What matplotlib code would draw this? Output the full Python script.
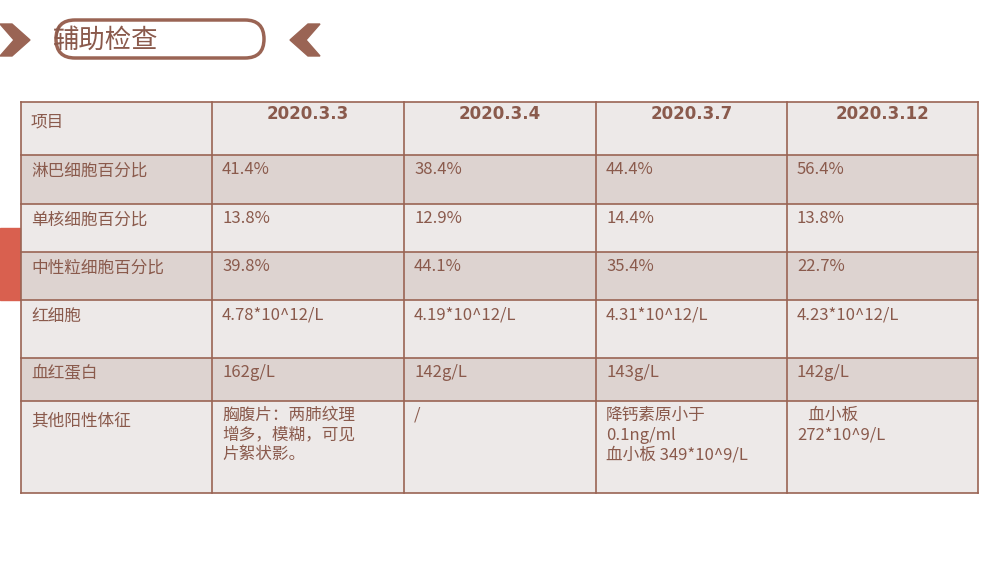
import matplotlib.pyplot as plt
from matplotlib.patches import Rectangle, FancyBboxPatch, Polygon

plt.rcParams['font.family'] = ['Noto Sans CJK SC', 'DejaVu Sans']

title = "辅助检查"
header = ["项目", "2020.3.3", "2020.3.4", "2020.3.7", "2020.3.12"]
rows = [
    ["淋巴细胞百分比", "41.4%", "38.4%", "44.4%", "56.4%"],
    ["单核细胞百分比", "13.8%", "12.9%", "14.4%", "13.8%"],
    ["中性粒细胞百分比", "39.8%", "44.1%", "35.4%", "22.7%"],
    ["红细胞", "4.78*10^12/L", "4.19*10^12/L", "4.31*10^12/L", "4.23*10^12/L"],
    ["血红蛋白", "162g/L", "142g/L", "143g/L", "142g/L"],
    ["其他阳性体征", "胸腹片：两肺纹理\n增多，模糊，可见\n片絮状影。", "/",
     "降钙素原小于\n0.1ng/ml\n血小板 349*10^9/L", "   血小板\n272*10^9/L"],
]

col_x = [21, 212, 404, 596, 787, 978]
row_y = [102, 155, 204, 252, 300, 358, 401, 493]
BROWN = "#9a6454"
TEXT = "#8a5a4c"
LIGHT = "#ede9e8"
DARK = "#ddd3d0"

fig = plt.figure(figsize=(10, 5.63), dpi=100)
ax = fig.add_axes([0, 0, 1, 1])
ax.set_xlim(0, 1000)
ax.set_ylim(563, 0)
ax.axis("off")

# title decoration
ax.add_patch(Polygon([[0, 24], [12, 24], [30, 40], [12, 56], [0, 56], [14, 40]],
                     closed=True, color=BROWN))
ax.add_patch(Polygon([[320, 24], [308, 24], [290, 40], [308, 56], [320, 56], [306, 40]],
                     closed=True, color=BROWN))
ax.add_patch(FancyBboxPatch((56, 20), 208, 38, boxstyle="round,pad=0,rounding_size=19",
                            fc="white", ec=BROWN, lw=2.5))
ax.text(52, 40, title, fontsize=19, color=TEXT, va="center", ha="left")

# red side bar
ax.add_patch(Rectangle((0, 228), 20, 72, color="#d9604f"))

# cells
all_rows = [header] + rows
for r, row in enumerate(all_rows):
    y0, y1 = row_y[r], row_y[r + 1]
    fc = DARK if r % 2 == 1 else LIGHT
    ax.add_patch(Rectangle((col_x[0], y0), col_x[-1] - col_x[0], y1 - y0, fc=fc, ec="none"))
    for c, txt in enumerate(row):
        x0, x1 = col_x[c], col_x[c + 1]
        if r == 0 and c > 0:
            ax.text((x0 + x1) / 2, y0 + 12, txt, fontsize=12, fontweight="bold",
                    color=TEXT, ha="center", va="center", family="DejaVu Sans")
        elif c == 0:
            ax.text(x0 + 10, y0 + (20 if r in (0, 6) else 16), txt, fontsize=12,
                    color=TEXT, ha="left", va="center")
        else:
            ax.text(x0 + 10, y0 + 6, txt, fontsize=12, color=TEXT, ha="left",
                    va="top", linespacing=1.2)

for x in col_x:
    ax.plot([x, x], [row_y[0], row_y[-1]], color=BROWN, lw=1.2)
for y in row_y:
    ax.plot([col_x[0], col_x[-1]], [y, y], color=BROWN, lw=1.2)

fig.savefig("out.png", dpi=100)
